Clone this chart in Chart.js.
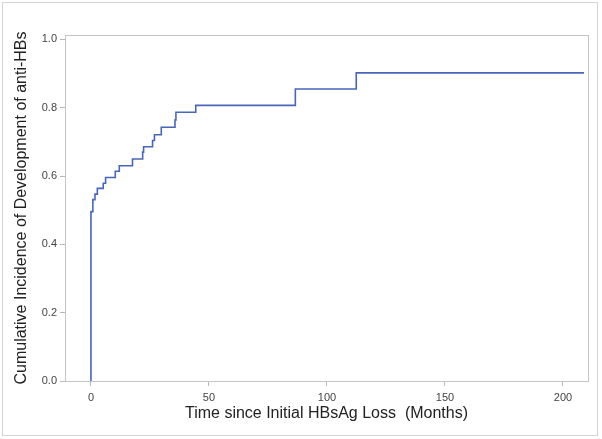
<!DOCTYPE html>
<html>
<head>
<meta charset="utf-8">
<script src="https://cdn.jsdelivr.net/npm/chart.js@4/dist/chart.umd.min.js"></script>
<style>
  html, body { margin: 0; padding: 0; background: #fff; }
  #wrap { position: relative; width: 602px; height: 439px; }
  #frame { position: absolute; left: 2px; top: 2px; width: 594px; height: 432px; border: 1px solid #d4d4d4; pointer-events: none; }
</style>
</head>
<body>
<div id="wrap">
  <canvas id="incidenceChart" width="602" height="439"></canvas>
  <div id="frame"></div>
</div>
<script>
// Tempos (meses) e incidência acumulada
const months = [0, 0, 0.8, 1.7, 2.7, 5.2, 6.2, 10.3, 12.0, 17.6, 21.9, 22.3, 26.1, 26.9, 29.8, 35.6, 36.0, 44.4, 86.6, 112.4, 208.9];
const incidence = [0, 0.496, 0.531, 0.547, 0.564, 0.579, 0.596, 0.614, 0.630, 0.650, 0.670, 0.686, 0.704, 0.721, 0.743, 0.764, 0.787, 0.807, 0.855, 0.902, 0.902];

const xTicks = [0, 50, 100, 150, 200];
const yTicks = [0, 0.2, 0.4, 0.6, 0.8, 1.0];

const xTitle = "Time since Initial HBsAg Loss  (Months)";
const yTitle = "Cumulative Incidence of Development of anti-HBs";

// Moldura em volta da área do gráfico
const boxPlugin = {
  id: "plotBox",
  afterDraw(chart) {
    const { ctx, chartArea } = chart;
    ctx.save();
    ctx.strokeStyle = "#c4c4c4";
    ctx.lineWidth = 1;
    ctx.strokeRect(
      Math.round(chartArea.left) + 0.5,
      Math.round(chartArea.top) + 0.5,
      Math.round(chartArea.right - chartArea.left),
      Math.round(chartArea.bottom - chartArea.top)
    );
    ctx.restore();
  },
};

const points = months.map((m, i) => ({ x: m, y: incidence[i] }));

new Chart(document.getElementById("incidenceChart"), {
  type: "line",
  data: {
    datasets: [
      {
        data: points,
        stepped: true,
        borderColor: "#4866ba",
        borderWidth: 1.6,
        pointRadius: 0,
        fill: false,
      },
    ],
  },
  options: {
    responsive: false,
    animation: false,
    layout: {
      padding: { left: 0, top: 35, right: 14, bottom: 0 },
    },
    plugins: {
      legend: { display: false },
      tooltip: { enabled: false },
    },
    scales: {
      x: {
        type: "linear",
        min: -11,
        max: 210.6,
        afterBuildTicks: (scale) => {
          scale.ticks = xTicks.map((v) => ({ value: v }));
        },
        afterFit: (scale) => {
          scale.height = 58;
        },
        grid: {
          drawOnChartArea: false,
          drawTicks: true,
          tickLength: 5,
          color: "#b8b8b8",
        },
        border: { color: "#c4c4c4" },
        ticks: {
          padding: 5,
          color: "#444",
          font: { family: "Liberation Sans", size: 11 },
          maxRotation: 0,
        },
        title: {
          display: true,
          text: xTitle,
          color: "#222",
          font: { family: "Liberation Sans", size: 16 },
          padding: { top: 0, bottom: 16 },
        },
      },
      y: {
        type: "linear",
        min: 0,
        max: 1.013,
        afterBuildTicks: (scale) => {
          scale.ticks = yTicks.map((v) => ({ value: v }));
        },
        afterFit: (scale) => {
          scale.width = 65;
        },
        grid: {
          drawOnChartArea: false,
          drawTicks: true,
          tickLength: 5,
          color: "#b8b8b8",
        },
        border: { color: "#c4c4c4" },
        ticks: {
          padding: 3,
          color: "#444",
          font: { family: "Liberation Sans", size: 11 },
          callback: (v) => Number(v).toFixed(1),
        },
        title: {
          display: true,
          text: yTitle,
          color: "#222",
          font: { family: "Liberation Sans", size: 16 },
          padding: { top: 12, bottom: 0 },
        },
      },
    },
  },
  plugins: [boxPlugin],
});
</script>
</body>
</html>
